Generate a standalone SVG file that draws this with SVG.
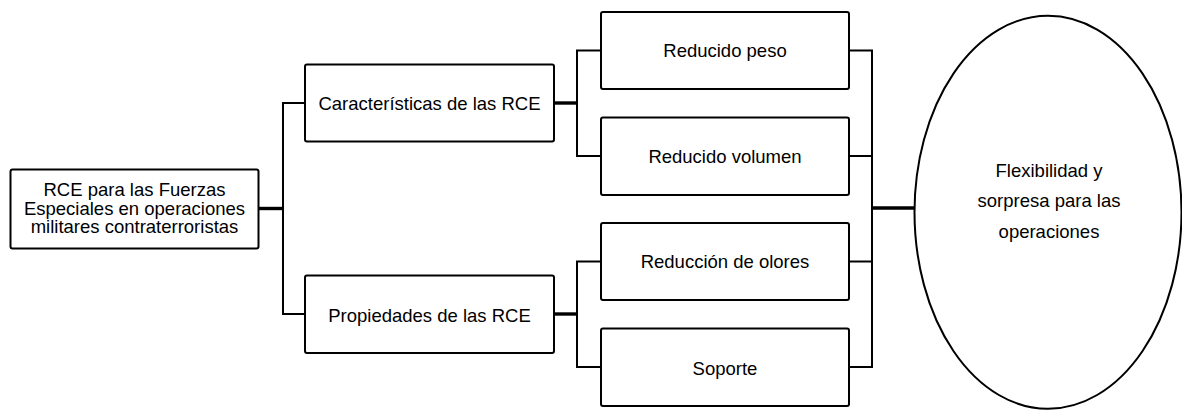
<svg xmlns="http://www.w3.org/2000/svg" width="1182" height="410" viewBox="0 0 1182 410">
<style>
.box{fill:#fff;stroke:#000;stroke-width:2}
.t{font-family:"Liberation Sans",Arial,sans-serif;font-size:18.5px;fill:#000;text-anchor:middle}
.c{stroke:#000;stroke-width:2;fill:none;stroke-linecap:square}
.ck{stroke:#000;stroke-width:3.4;fill:none}
</style>
<rect width="1182" height="410" fill="#fff"/>
<g id="connectors">
<line class="ck" x1="259" y1="208.5" x2="283" y2="208.5"/>
<polyline class="c" points="305,103 283,103 283,314 305,314"/>
<line class="ck" x1="554" y1="103" x2="577" y2="103"/>
<polyline class="c" points="601,50.5 577,50.5 577,156 601,156"/>
<line class="ck" x1="554" y1="314" x2="577" y2="314"/>
<polyline class="c" points="601,261.5 577,261.5 577,367 601,367"/>
<polyline class="c" points="849,50.5 872,50.5 872,367 849,367"/>
<line class="c" x1="849" y1="156" x2="872" y2="156"/>
<line class="c" x1="849" y1="261.5" x2="872" y2="261.5"/>
<line class="ck" x1="872" y1="208" x2="914" y2="208"/>
</g>
<g id="n-main">
<rect class="box" x="10.5" y="169.5" width="248" height="79" rx="2"/>
<text class="t" x="134.5" y="196">RCE para las Fuerzas</text>
<text class="t" x="134.5" y="214.7">Especiales en operaciones</text>
<text class="t" x="134.5" y="233.4">militares contraterroristas</text>
</g>
<g id="n-caract">
<rect class="box" x="305" y="64.5" width="249" height="77" rx="2"/>
<text class="t" x="429.5" y="110">Características de las RCE</text>
</g>
<g id="n-prop">
<rect class="box" x="305" y="275.5" width="249" height="77.5" rx="2"/>
<text class="t" x="429.5" y="321.5">Propiedades de las RCE</text>
</g>
<g id="n-peso">
<rect class="box" x="601" y="12" width="248" height="77" rx="2"/>
<text class="t" x="725" y="56.8">Reducido peso</text>
</g>
<g id="n-volumen">
<rect class="box" x="601" y="117.5" width="248" height="77.5" rx="2"/>
<text class="t" x="725" y="162.6">Reducido volumen</text>
</g>
<g id="n-olores">
<rect class="box" x="601" y="223" width="248" height="77" rx="2"/>
<text class="t" x="725" y="268.2">Reducción de olores</text>
</g>
<g id="n-soporte">
<rect class="box" x="601" y="328.5" width="248" height="77.5" rx="2"/>
<text class="t" x="725" y="375">Soporte</text>
</g>
<g id="n-flex">
<ellipse class="box" cx="1048" cy="212.3" rx="133.5" ry="196.5"/>
<text class="t" x="1049" y="176.7">Flexibilidad y</text>
<text class="t" x="1049" y="207.2">sorpresa para las</text>
<text class="t" x="1049" y="237.7">operaciones</text>
</g>
</svg>
